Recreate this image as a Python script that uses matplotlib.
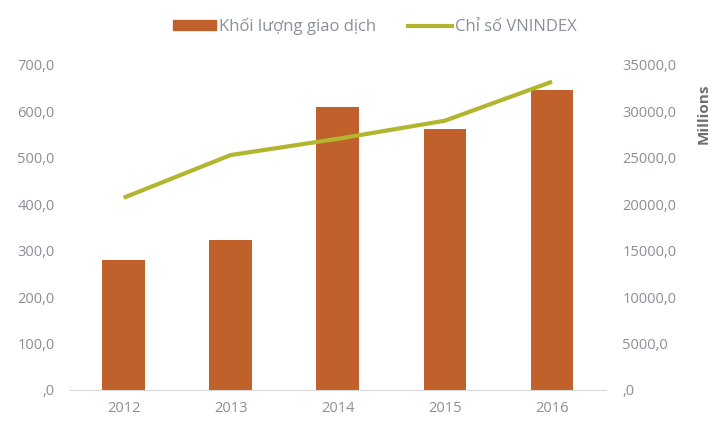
import matplotlib.pyplot as plt
from matplotlib.ticker import FuncFormatter, MultipleLocator

years = ["2012", "2013", "2014", "2015", "2016"]
volume = [280, 323, 610, 562, 646]                   # Khối lượng giao dịch (left axis)
vnindex = [20700, 25300, 27050, 29000, 33200]        # Chỉ số VNINDEX (right axis)

bar_color = "#c0612b"
line_color = "#b3b52f"
text_color = "#8a8f98"

plt.rcParams["font.family"] = ["Open Sans", "DejaVu Sans"]


def vn_fmt(v, pos):
    s = f"{v:.1f}".replace(".", ",")
    return s[1:] if s.startswith("0,") else s


fig = plt.figure(figsize=(7.15, 4.22), dpi=100)
ax = fig.add_axes([0.098, 0.076, 0.749, 0.770])
ax2 = ax.twinx()

x = list(range(len(years)))
ax.bar(x, volume, width=0.4, color=bar_color, zorder=2)
ax2.plot(x, vnindex, color=line_color, lw=3, zorder=3, solid_capstyle="butt")

ax.set_xlim(-0.5, len(years) - 0.5)
ax.set_ylim(0, 700)
ax2.set_ylim(0, 35000)
ax.yaxis.set_major_locator(MultipleLocator(100))
ax2.yaxis.set_major_locator(MultipleLocator(5000))
ax.yaxis.set_major_formatter(FuncFormatter(vn_fmt))
ax2.yaxis.set_major_formatter(FuncFormatter(vn_fmt))

ax.set_xticks(x)
ax.set_xticklabels(years)

for a in (ax, ax2):
    for side in ("top", "left", "right", "bottom"):
        a.spines[side].set_visible(False)
    a.tick_params(length=0, labelsize=10.5, labelcolor=text_color)
ax.spines["bottom"].set_visible(True)
ax.spines["bottom"].set_color("#d9d9d9")
ax.tick_params(axis="y", pad=11)
ax.tick_params(axis="x", pad=8)
ax2.tick_params(axis="y", pad=12)

ax2.set_ylabel("Millions", color="#6b6f76", fontsize=11, fontweight="bold")
ax2.yaxis.set_label_coords(1.17, 0.85)

# legend
h1 = plt.Rectangle((0, 0), 1, 1, color=bar_color)
h2 = plt.Line2D([0], [0], color=line_color, lw=3)
fig.legend([h1, h2], ["Khối lượng giao dịch", "Chỉ số VNINDEX"],
           loc="center", bbox_to_anchor=(0.524, 0.938), ncol=2, frameon=False,
           fontsize=12, labelcolor=text_color, handlelength=2.6, handleheight=0.5,
           handletextpad=0.2, columnspacing=1.9)

fig.savefig("out.png", dpi=100)
